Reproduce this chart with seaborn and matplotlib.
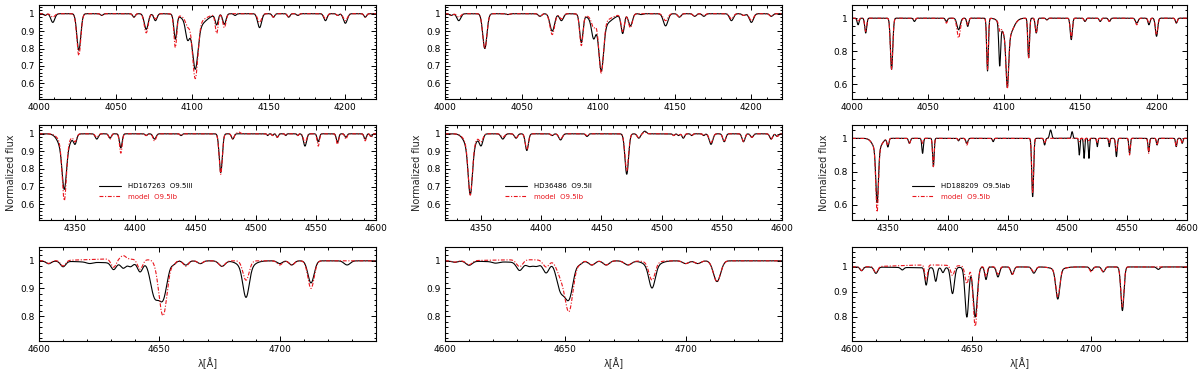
import matplotlib
matplotlib.use("Agg")
import matplotlib.pyplot as plt
import numpy as np
import pandas as pd
import seaborn as sns
from matplotlib.ticker import MultipleLocator

sns.set_theme(style="ticks")
plt.rcParams["font.family"] = ["DejaVu Sans"]

STARS = ["HD167263  O9.5III", "HD36486  O9.5II", "HD188209  O9.5Iab"]
MODEL_LABEL = "model  O9.5Ib"
RED = "#e8141c"

# line centres (A) for the three wavelength windows
R1_CENTERS = [4004, 4009, 4026, 4041, 4062, 4070, 4076, 4089, 4097, 4102, 4102,
              4116, 4121, 4128, 4144, 4153, 4163, 4169, 4187, 4195, 4200, 4213]
R2_CENTERS = [4341, 4341, 4350, 4368, 4379, 4388, 4409, 4416, 4438, 4471, 4481, 4486,
              4504, 4510, 4514, 4518, 4525, 4535, 4541, 4552, 4568, 4575, 4591, 4596]
R3_CENTERS = [4604, 4610, 4621, 4631, 4635, 4638, 4642, 4648, 4651.5, 4656,
              4661, 4667, 4676, 4686, 4700, 4705, 4713, 4728, 4632, 4686]

# core flux of each line (observed / model) and line FWHM, per star
A_R1_OBS = [0.99, 0.95, 0.79, 0.99, 0.98, 0.91, 0.96, 0.86, 0.90, 0.74, 0.92,
            0.94, 0.94, 0.99, 0.92, 0.98, 0.98, 0.99, 0.96, 0.99, 0.945, 0.98]
A_R1_MOD = [0.99, 0.98, 0.76, 0.99, 0.98, 0.89, 0.97, 0.81, 0.96, 0.66, 0.95,
            0.89, 0.92, 1.00, 0.95, 0.98, 0.98, 0.99, 0.97, 0.99, 0.96, 0.98]
A_R1_FWHM = [2, 3, 3, 2, 2, 3, 2.5, 2.2, 3, 4, 14, 2.2, 2.5, 2, 3, 2, 2, 2, 2.5, 2, 3, 2]

B_R1_OBS = [0.99, 0.96, 0.80, 0.995, 0.985, 0.90, 0.96, 0.84, 0.90, 0.72, 0.93,
            0.89, 0.93, 0.995, 0.93, 0.98, 0.985, 0.985, 0.96, 0.99, 0.95, 0.985]
B_R1_MOD = [0.99, 0.98, 0.80, 0.995, 0.985, 0.88, 0.97, 0.82, 0.95, 0.69, 0.955,
            0.90, 0.92, 1.00, 0.96, 0.98, 0.985, 0.99, 0.97, 0.99, 0.96, 0.985]
B_R1_FWHM = [2.5, 3, 3.2, 2.5, 2.5, 3.5, 3, 2.5, 3, 3.5, 14, 2.5, 3, 2.5, 3.5,
             2.5, 2.5, 2.5, 3, 2.5, 3.2, 2.5]

C_R1_OBS = [0.96, 0.91, 0.69, 0.98, 0.98, 0.93, 0.95, 0.68, 0.74, 0.66, 0.88,
            0.76, 0.91, 0.99, 0.87, 0.98, 0.98, 0.98, 0.97, 0.96, 0.89, 0.97]
C_R1_MOD = [0.98, 0.92, 0.69, 0.99, 0.97, 0.88, 0.96, 0.69, 0.96, 0.65, 0.88,
            0.76, 0.91, 0.99, 0.88, 0.98, 0.98, 0.98, 0.96, 0.97, 0.90, 0.97]
C_R1_FWHM = [1.5, 1.5, 1.8, 1.5, 1.5, 2.5, 1.5, 1.3, 1.4, 2.0, 8, 1.3, 1.5, 1.5,
             1.6, 1.5, 1.5, 1.5, 2, 1.5, 1.8, 1.5]

A_R2_OBS = [0.76, 0.90, 0.95, 0.97, 0.975, 0.92, 0.99, 0.97, 0.99, 0.78, 0.97, 1.0,
            1.0, 0.99, 0.99, 0.98, 0.99, 0.99, 0.93, 0.955, 0.95, 0.98, 0.97, 0.985]
A_R2_MOD = [0.66, 0.94, 0.96, 0.98, 0.97, 0.89, 0.99, 0.96, 0.99, 0.77, 0.97, 1.01,
            1.0, 0.99, 0.99, 0.98, 0.99, 0.99, 0.95, 0.93, 0.94, 0.97, 0.96, 0.98]
A_R2_FWHM = [4, 10, 3, 3, 2.5, 2.5, 2, 3, 2, 3, 2.5, 3, 2, 1.5, 1.5, 2, 1.5, 1.5,
             3, 2.2, 2.2, 2.2, 2.2, 2]

B_R2_OBS = [0.72, 0.91, 0.94, 0.97, 0.975, 0.905, 0.99, 0.965, 0.985, 0.77, 0.975, 1.015,
            1.0, 0.99, 0.99, 0.975, 0.99, 0.99, 0.94, 0.955, 0.955, 0.98, 0.97, 0.985]
B_R2_MOD = [0.70, 0.93, 0.96, 0.98, 0.975, 0.91, 0.99, 0.97, 0.99, 0.79, 0.975, 1.01,
            1.0, 0.99, 0.99, 0.98, 0.99, 0.99, 0.95, 0.955, 0.955, 0.98, 0.97, 0.985]
B_R2_FWHM = [4, 10, 3.5, 3.5, 3, 3, 2.5, 3.5, 2.5, 3.5, 3, 3, 2.5, 2, 2, 2.5, 2, 2,
             3.5, 2.8, 2.8, 2.8, 2.8, 2.5]

C_R2_OBS = [0.66, 0.93, 0.95, 0.97, 0.91, 0.83, 0.985, 0.97, 0.98, 0.65, 0.96, 1.05,
            1.04, 0.90, 0.88, 0.88, 0.95, 0.95, 0.89, 0.91, 0.92, 0.96, 0.95, 0.97]
C_R2_MOD = [0.60, 0.93, 0.96, 0.97, 0.97, 0.83, 0.99, 0.96, 0.99, 0.67, 0.97, 1.0,
            1.0, 0.98, 0.98, 0.98, 0.97, 0.97, 0.92, 0.90, 0.91, 0.96, 0.95, 0.97]
C_R2_FWHM = [2.5, 8, 1.8, 1.8, 1.5, 1.5, 1.5, 2, 1.5, 1.8, 1.5, 2, 1.5, 1.2, 1.2,
             1.2, 1.2, 1.2, 1.6, 1.4, 1.4, 1.4, 1.4, 1.4]

A_R3_OBS = [0.99, 0.98, 0.995, 0.975, 0.98, 0.985, 0.965, 0.88, 0.87, 0.99,
            0.985, 0.99, 0.98, 0.89, 0.99, 0.985, 0.92, 0.985, 0.993, 0.975]
A_R3_MOD = [0.99, 0.98, 1.0, 0.97, 1.012, 1.0, 0.965, 1.0, 0.80, 0.99,
            0.98, 0.99, 0.98, 0.93, 0.985, 0.985, 0.90, 1.0, 1.007, 1.0]
A_R3_FWHM = [2.5, 2.5, 3, 2.5, 2.5, 2.5, 2.5, 4, 4, 2, 2.5, 2.5, 3, 3, 2.5, 2.5, 3, 3,
             30, 7]

B_R3_OBS = [0.995, 0.985, 0.995, 0.97, 0.985, 0.985, 0.96, 0.90, 0.87, 0.99,
            0.985, 0.985, 0.985, 0.92, 0.99, 0.99, 0.925, 1.0, 0.995, 0.98]
B_R3_MOD = [0.995, 0.985, 1.0, 0.975, 1.0, 1.0, 0.975, 0.95, 0.82, 0.99,
            0.985, 0.985, 0.985, 0.935, 0.99, 0.99, 0.925, 1.0, 1.004, 0.995]
B_R3_FWHM = [3, 3, 3, 3, 3, 3, 3, 4, 4, 2.5, 3, 3, 3.5, 3, 3, 3, 3.5, 3, 30, 7]

C_R3_OBS = [0.985, 0.975, 0.99, 0.93, 0.945, 0.98, 0.895, 0.80, 0.80, 0.95,
            0.96, 0.97, 0.975, 0.88, 0.985, 0.98, 0.825, 0.99, 0.997, 0.99]
C_R3_MOD = [0.985, 0.975, 1.0, 0.94, 1.0, 1.0, 0.96, 0.93, 0.76, 0.96,
            0.97, 0.97, 0.98, 0.89, 0.98, 0.98, 0.84, 1.0, 1.008, 0.99]
C_R3_FWHM = [1.5, 1.8, 1.5, 1.3, 1.3, 1.3, 1.8, 1.8, 2.0, 1.2, 1.5, 1.5, 1.8, 2.0,
             1.5, 1.5, 1.5, 1.5, 30, 6]

XLIMS = [(4000, 4220), (4320, 4600), (4600, 4740)]
YLIMS = [
    [(0.51, 1.05), (0.51, 1.05), (0.51, 1.08)],
    [(0.51, 1.05), (0.51, 1.05), (0.51, 1.08)],
    [(0.71, 1.05), (0.71, 1.05), (0.703, 1.08)],
]

CENTERS = [R1_CENTERS, R2_CENTERS, R3_CENTERS]
OBS = [[A_R1_OBS, B_R1_OBS, C_R1_OBS], [A_R2_OBS, B_R2_OBS, C_R2_OBS], [A_R3_OBS, B_R3_OBS, C_R3_OBS]]
MOD = [[A_R1_MOD, B_R1_MOD, C_R1_MOD], [A_R2_MOD, B_R2_MOD, C_R2_MOD], [A_R3_MOD, B_R3_MOD, C_R3_MOD]]
FWHM = [[A_R1_FWHM, B_R1_FWHM, C_R1_FWHM], [A_R2_FWHM, B_R2_FWHM, C_R2_FWHM],
        [A_R3_FWHM, B_R3_FWHM, C_R3_FWHM]]


def build_profile(wave, centers, core_flux, fwhm):
    flux = np.ones_like(wave)
    for c, f, w in zip(centers, core_flux, fwhm):
        sigma = w / 2.3548
        flux *= 1.0 - (1.0 - f) * np.exp(-0.5 * ((wave - c) / sigma) ** 2)
    return flux


COL_LEFT = [39, 445, 852]
COL_WIDTH = [337, 337, 335]
ROW_TOP = [5, 125, 247]
ROW_BOTTOM = [99, 220, 341]
W, H = 1200, 374

fig = plt.figure(figsize=(12, 3.74), dpi=100)

for r in range(3):
    for s in range(3):
        ax = fig.add_axes([COL_LEFT[s] / W, 1 - ROW_BOTTOM[r] / H,
                           COL_WIDTH[s] / W, (ROW_BOTTOM[r] - ROW_TOP[r]) / H])
        wave = np.linspace(XLIMS[r][0], XLIMS[r][1], 3000)
        df = pd.DataFrame({
            "wave": wave,
            "obs": build_profile(wave, CENTERS[r], OBS[r][s], FWHM[r][s]),
            "model": build_profile(wave, CENTERS[r], MOD[r][s], FWHM[r][s]),
        })
        sns.lineplot(data=df, x="wave", y="obs", ax=ax, color="black", lw=0.8,
                     estimator=None, sort=False, label=STARS[s])
        sns.lineplot(data=df, x="wave", y="model", ax=ax, color=RED, lw=0.8,
                     linestyle=(0, (3.5, 1.5, 1, 1.5)), estimator=None, sort=False,
                     label=MODEL_LABEL)

        ax.set_xlim(*XLIMS[r])
        ax.set_ylim(*YLIMS[r][s])
        ax.xaxis.set_major_locator(MultipleLocator(50))
        ax.xaxis.set_minor_locator(MultipleLocator(10))
        if s == 2 and r < 2:
            ax.yaxis.set_major_locator(MultipleLocator(0.2))
            ax.yaxis.set_minor_locator(MultipleLocator(0.05))
        else:
            ax.yaxis.set_major_locator(MultipleLocator(0.1))
            ax.yaxis.set_minor_locator(MultipleLocator(0.02))
        ax.yaxis.set_major_formatter(plt.FuncFormatter(lambda v, p: f"{v:g}"))
        ax.tick_params(which="both", direction="in", top=True, right=True,
                       labelsize=6.5, pad=3, width=0.7, colors="black")
        ax.tick_params(which="major", length=3.5)
        ax.tick_params(which="minor", length=1.8)
        for sp in ax.spines.values():
            sp.set_linewidth(0.8)
            sp.set_color("black")

        ax.set_xlabel("λ[Å]" if r == 2 else "", fontsize=7, labelpad=2)
        ax.set_ylabel("Normalized flux" if r == 1 else "", fontsize=7, labelpad=3)

        if r == 1:
            ax.legend(loc="upper left", bbox_to_anchor=(0.16, 0.45), frameon=False,
                      fontsize=5, handlelength=3.2, handletextpad=1.0,
                      labelspacing=0.6, labelcolor=["black", RED])
        else:
            ax.get_legend().remove()

fig.savefig("out.png", dpi=100)
